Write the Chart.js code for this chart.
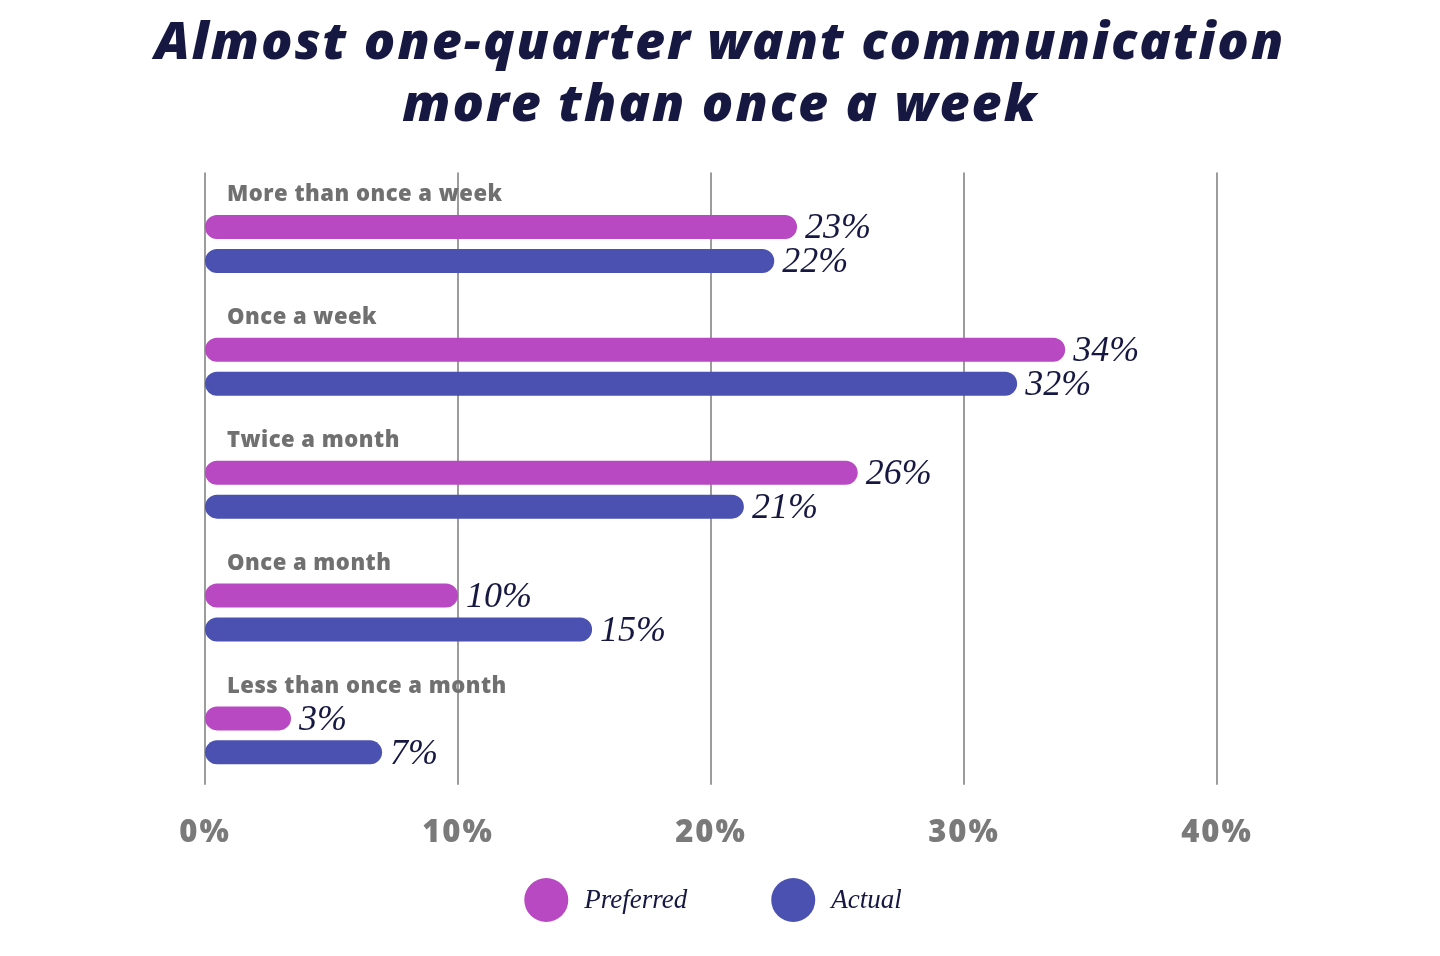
<!DOCTYPE html>
<html>
<head>
<meta charset="utf-8">
<script src="https://cdn.jsdelivr.net/npm/chart.js@4/dist/chart.umd.min.js"></script>
<style>
  html, body { margin: 0; padding: 0; background: #fff; }
  #wrap { width: 1440px; height: 956px; }
</style>
</head>
<body>
<div id="wrap"><canvas id="freqChart" width="1440" height="956"></canvas></div>
<script>
// data
var categories = ['More than once a week', 'Once a week', 'Twice a month', 'Once a month', 'Less than once a month'];
var preferred = [23.4, 34.0, 25.8, 10.0, 3.4];
var actual = [22.5, 32.1, 21.3, 15.3, 7.0];
var preferredLabels = ['23%', '34%', '26%', '10%', '3%'];
var actualLabels = ['22%', '32%', '21%', '15%', '7%'];
var xTicks = [0, 10, 20, 30, 40];
var titleLines = ['Almost one-quarter want communication', 'more than once a week'];

var navy = '#161842';
var pink = '#b849c2';
var blue = '#4a51b0';

// tick font is wider in the original, so add a little tracking
var spacingPlugin = {
    id: 'tracking',
    beforeDraw: function(chart) { chart.ctx.letterSpacing = '2px'; },
    beforeDatasetsDraw: function(chart) { chart.ctx.letterSpacing = '0px'; }
};

// title drawn by hand so it can be wider than the plot area
var titlePlugin = {
    id: 'wideTitle',
    afterDraw: function(chart) {
        var ctx = chart.ctx;
        ctx.save();
        ctx.letterSpacing = '2px';
        ctx.fillStyle = navy;
        ctx.font = 'italic 800 52px "Open Sans"';
        ctx.textAlign = 'center';
        ctx.textBaseline = 'middle';
        titleLines.forEach(function(line, i) {
            ctx.fillText(line, chart.width / 2, 44 + i * 62);
        });
        ctx.restore();
    }
};

// vertical grid lines, a bit taller at the top than the plot area
var gridPlugin = {
    id: 'gridLines',
    beforeDatasetsDraw: function(chart) {
        var ctx = chart.ctx, area = chart.chartArea, x = chart.scales.x;
        ctx.save();
        ctx.strokeStyle = '#9c9c9c';
        ctx.lineWidth = 2;
        xTicks.forEach(function(t) {
            var px = Math.round(x.getPixelForValue(t));
            ctx.beginPath();
            ctx.moveTo(px, area.top - 10);
            ctx.lineTo(px, area.bottom - 12);
            ctx.stroke();
        });
        ctx.restore();
    }
};

// category names above each pair of bars + value labels at bar ends
var labelPlugin = {
    id: 'barLabels',
    afterDatasetsDraw: function(chart) {
        var ctx = chart.ctx, area = chart.chartArea, y = chart.scales.y;
        ctx.save();
        ctx.letterSpacing = '0.5px';
        ctx.fillStyle = '#707070';
        ctx.font = '800 22px "Open Sans"';
        ctx.textAlign = 'left';
        ctx.textBaseline = 'middle';
        categories.forEach(function(c, i) {
            ctx.fillText(c, area.left + 22, y.getPixelForValue(i) - 49);
        });
        ctx.letterSpacing = '0px';

        ctx.fillStyle = navy;
        ctx.font = 'italic 36px "Liberation Serif"';
        var texts = [preferredLabels, actualLabels];
        chart.data.datasets.forEach(function(ds, d) {
            chart.getDatasetMeta(d).data.forEach(function(bar, i) {
                ctx.fillText(texts[d][i], bar.x + 8, bar.y + 2);
            });
        });

        // legend
        var items = chart.data.datasets;
        ctx.font = 'italic 27px "Liberation Serif"';
        var r = 22, gapText = 16, gapItem = 84;
        var total = 0;
        items.forEach(function(ds, i) {
            total += r * 2 + gapText + ctx.measureText(ds.label).width;
            if (i > 0) total += gapItem;
        });
        var lx = chart.width / 2 - 7 - total / 2, ly = 900;
        items.forEach(function(ds) {
            ctx.fillStyle = ds.backgroundColor;
            ctx.beginPath();
            ctx.arc(lx + r, ly, r, 0, Math.PI * 2);
            ctx.fill();
            lx += r * 2 + gapText;
            ctx.fillStyle = navy;
            ctx.fillText(ds.label, lx, ly + 1);
            lx += ctx.measureText(ds.label).width + gapItem;
        });
        ctx.restore();
    }
};

window.onload = function() {
    var ctx = document.getElementById('freqChart').getContext('2d');
    new Chart(ctx, {
        type: 'bar',
        data: {
            labels: categories,
            datasets: [{
                label: 'Preferred',
                data: preferred,
                backgroundColor: pink
            }, {
                label: 'Actual',
                data: actual,
                backgroundColor: blue
            }]
        },
        options: {
            indexAxis: 'y',
            responsive: false,
            animation: false,
            borderRadius: 12,
            borderSkipped: false,
            categoryPercentage: 0.553,
            barPercentage: 0.706,
            layout: {
                padding: { left: 205, right: 223, top: 182.5, bottom: 94 }
            },
            scales: {
                x: {
                    min: 0,
                    max: 40,
                    afterBuildTicks: function(axis) {
                        axis.ticks = xTicks.map(function(v) { return { value: v }; });
                    },
                    grid: { display: false },
                    border: { display: false },
                    ticks: {
                        padding: 10,
                        color: '#7a7a7a',
                        font: { family: 'Open Sans', weight: '800', size: 31 },
                        callback: function(v) { return v + '%'; }
                    }
                },
                y: {
                    display: false
                }
            },
            plugins: {
                legend: { display: false },
                tooltip: { enabled: false },
                title: { display: false }
            }
        },
        plugins: [spacingPlugin, gridPlugin, labelPlugin, titlePlugin]
    });
};
</script>
</body>
</html>
